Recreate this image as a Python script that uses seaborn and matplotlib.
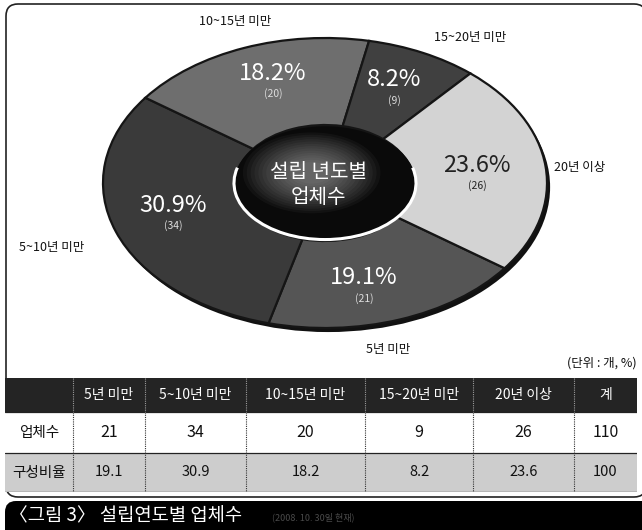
import numpy as np
import seaborn as sns
import matplotlib.pyplot as plt
from matplotlib.patches import Ellipse, Arc, FancyBboxPatch

# 데이터
categories = ['5년 미만', '5~10년 미만', '10~15년 미만', '15~20년 미만', '20년 이상']
counts = [21, 34, 20, 9, 26]
shares = [19.1, 30.9, 18.2, 8.2, 23.6]
total_label = '계'
total_count = 110
total_share = 100
row_labels = ['업체수', '구성비율']
center_title = '설립 년도별\n업체수'
caption = '〈그림 3〉 설립연도별 업체수'
caption_note = '(2008. 10. 30일 현재)'
unit_note = '(단위 : 개, %)'

sns.set_theme(style="white")
plt.rcParams['font.family'] = ['Noto Sans CJK KR', 'DejaVu Sans']

W, H = 642, 530
fig = plt.figure(figsize=(W / 100, H / 100), dpi=100)


def fx(x):
    return x / W


def fy(y):
    return 1 - y / H


# 배경 프레임 + 캡션 바
bg = fig.add_axes([0, 0, 1, 1])
bg.set_xlim(0, W)
bg.set_ylim(H, 0)
bg.axis('off')
bg.add_patch(FancyBboxPatch((5, 501), 660, 40, boxstyle='round,pad=0,rounding_size=11',
                            fc='black', ec='none', zorder=1))
bg.add_patch(FancyBboxPatch((6, 4), 640, 493, boxstyle='round,pad=0,rounding_size=12',
                            fc='white', ec='#222222', lw=1.2, zorder=2))
bg.text(9, 516, caption, color='white', fontsize=13.5, va='center', ha='left', zorder=3)
bg.text(272, 517, caption_note, color='#4a4a4a', fontsize=6.5, va='center', ha='left', zorder=3)

# 파이(도넛) 차트
colors = ['#555555', '#3a3a3a', '#6e6e6e', '#404040', '#d3d3d3']
cx, cy, rx, ry = 325, 183, 222, 145
pa = fig.add_axes([fx(cx - 1.1 * rx), fy(cy + 1.1 * ry), 2.2 * rx / W, 2.2 * ry / H])
wedges, _ = pa.pie(counts, startangle=-36, counterclock=False, colors=colors,
                   wedgeprops=dict(width=0.6, edgecolor='#151515', linewidth=1.6))
pa.set_aspect('auto')
pa.set_xlim(-1.1, 1.1)
pa.set_ylim(-1.1, 1.1)
pa.axis('off')
for w in wedges:
    w.set_zorder(2)
# 입체감 테두리
pa.add_patch(Ellipse((0.014, -0.028), 2.0, 2.0, fc='#111111', ec='none', zorder=1))
# 가운데 구멍
pa.add_patch(Ellipse((0, 0), 0.82, 0.78, fc='#0a0a0a', ec='none', zorder=3))
for i in range(14):
    s = 0.62 - i * 0.035
    pa.add_patch(Ellipse((-0.06, 0.07), s, s * 0.9, fc='white', ec='none', alpha=0.035, zorder=4))
pa.add_patch(Arc((0, 0), 0.82, 0.78, theta1=165, theta2=375, color='white', lw=2.2, zorder=5))

fig.text(fx(318), fy(185), center_title, color='white', fontsize=14.5, ha='center', va='center',
         linespacing=1.25)

# 바깥 라벨
outer_pos = [(388, 349), (52, 247), (235, 22), (470, 37), (580, 167)]
for lab, (x, y) in zip(categories, outer_pos):
    fig.text(fx(x), fy(y), lab, fontsize=9, ha='center', va='center', color='#111111')

# 퍼센트 라벨
pct_pos = [(364, 278), (173, 205), (273, 73), (394, 80), (477, 165)]
for i, (x, y) in enumerate(pct_pos):
    c = '#222222' if i == 4 else 'white'
    fig.text(fx(x), fy(y), f'{shares[i]:.1f}%', fontsize=17, ha='center', va='center', color=c)
    fig.text(fx(x), fy(y + 21), f'({counts[i]})', fontsize=7.5, ha='center', va='center',
             color='#222222' if i == 4 else '#dddddd')

fig.text(fx(637), fy(363), unit_note, fontsize=9, ha='right', va='center', color='#111111')

# 표
t_left, t_right, t_top, t_bot = 5, 637, 378, 492
ta = fig.add_axes([fx(t_left), fy(t_bot), (t_right - t_left) / W, (t_bot - t_top) / H])
ta.axis('off')
ta.set_xlim(0, 1)
ta.set_ylim(0, 1)


def fmt(v):
    return f'{v:g}'


cell_text = [[''] + categories + [total_label],
             [row_labels[0]] + [fmt(v) for v in counts] + [fmt(total_count)],
             [row_labels[1]] + [fmt(v) for v in shares] + [fmt(total_share)]]
col_px = np.array([68, 72, 101, 119, 108, 101, 63], dtype=float)
col_w = col_px / col_px.sum()
row_px = np.array([34, 41, 39], dtype=float)
row_h = row_px / row_px.sum()
row_bg = ['#242424', 'white', '#cdcdcd']
row_fc = ['white', '#111111', '#111111']
row_fs = [10, 11.5, 10.5]

tbl = ta.table(cellText=cell_text, colWidths=list(col_w), bbox=[0, 0, 1, 1], cellLoc='center')
tbl.auto_set_font_size(False)
for (r, c), cell in tbl.get_celld().items():
    cell.set_height(row_h[r])
    cell.set_facecolor(row_bg[r])
    cell.set_edgecolor(row_bg[r])
    cell.set_linewidth(0)
    cell.get_text().set_color(row_fc[r])
    cell.get_text().set_fontsize(10.5 if (c == 0 and r > 0) else row_fs[r])

# 표 선
y_edges = 1 - np.concatenate([[0], np.cumsum(row_h)])
for y in y_edges[1:]:
    ta.axhline(y, color='#222222', lw=0.9, zorder=5)
x_edges = np.cumsum(col_w)[:-1]
for x in x_edges:
    ta.plot([x, x], [y_edges[1], 0], color='#333333', lw=0.8, ls=(0, (1, 1)), zorder=5)
    ta.plot([x, x], [1, y_edges[1]], color='#9a9a9a', lw=0.8, ls=(0, (1, 1)), zorder=5)

fig.savefig('out.png', dpi=100)
